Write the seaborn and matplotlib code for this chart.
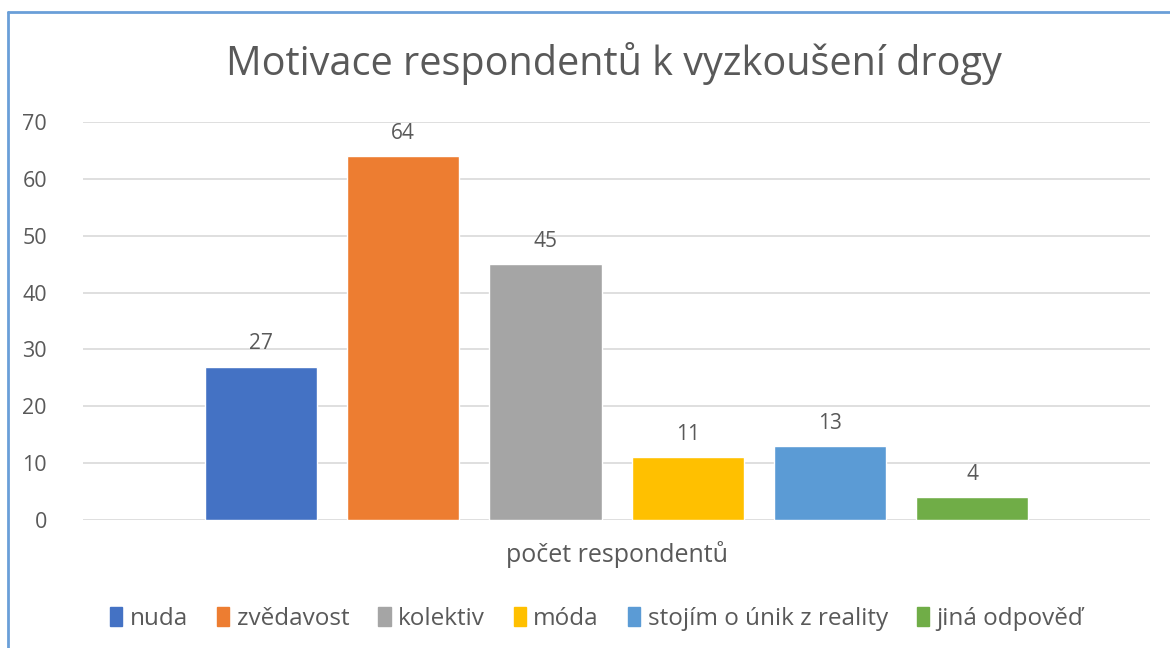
import pandas as pd
import matplotlib.pyplot as plt
import seaborn as sns
from matplotlib.lines import Line2D
from matplotlib.patches import Patch

kategorie = ["počet respondentů"]
odpovedi = ["nuda", "zvědavost", "kolektiv", "móda", "stojím o únik z reality", "jiná odpověď"]
pocty = [27, 64, 45, 11, 13, 4]
barvy = ["#4472C4", "#ED7D31", "#A5A5A5", "#FFC000", "#5B9BD5", "#70AD47"]
yticky = [0, 10, 20, 30, 40, 50, 60, 70]


def main():
    df = pd.DataFrame({"kategorie": kategorie * len(odpovedi),
                       "odpoved": odpovedi,
                       "pocet": pocty})

    sns.set_theme(style="white")
    plt.rcParams["font.family"] = ["Open Sans", "DejaVu Sans"]
    seda = "#595959"

    fig = plt.figure(figsize=(11.7, 6.48), dpi=100)
    ax = fig.add_axes([0.071, 0.1975, 0.912, 0.6142])

    sns.barplot(data=df, x="kategorie", y="pocet", hue="odpoved",
                palette=barvy, width=0.8, gap=0.21, ax=ax, legend=False,
                saturation=1)

    for c in ax.containers:
        ax.bar_label(c, padding=9, fontsize=15, color=seda)

    ax.set_ylim(0, 70)
    ax.set_yticks(yticky)
    ax.set_xlim(-0.5, 0.5)
    ax.yaxis.grid(True, color="#d9d9d9", linewidth=1.2)
    ax.set_axisbelow(True)
    for s in ax.spines.values():
        s.set_visible(False)
    ax.tick_params(axis="y", labelsize=15.5, labelcolor=seda, pad=26, length=0)
    ax.set_xticks([])
    ax.set_xlabel(kategorie[0], fontsize=18, color=seda, labelpad=15)
    ax.set_ylabel("")

    fig.suptitle("Motivace respondentů k vyzkoušení drogy", x=0.525, y=0.935,
                 fontsize=28.5, color=seda)

    handles = [Patch(facecolor=b, edgecolor=b) for b in barvy]
    fig.legend(handles, odpovedi, loc="center", bbox_to_anchor=(0.51, 0.045),
               ncol=6, frameon=False, fontsize=17.5, handlelength=0.5,
               handleheight=0.85, handletextpad=0.3, columnspacing=1.2,
               labelcolor=seda)

    # modry ramecek grafu
    fig.add_artist(Line2D([8 / 1170, 8 / 1170], [0, 1 - 12 / 648],
                          transform=fig.transFigure, color="#6A9FD8", linewidth=2))
    fig.add_artist(Line2D([8 / 1170, 1], [1 - 12 / 648, 1 - 12 / 648],
                          transform=fig.transFigure, color="#6A9FD8", linewidth=2))

    fig.savefig("out.png", dpi=100, facecolor="white")


if __name__ == "__main__":
    main()
